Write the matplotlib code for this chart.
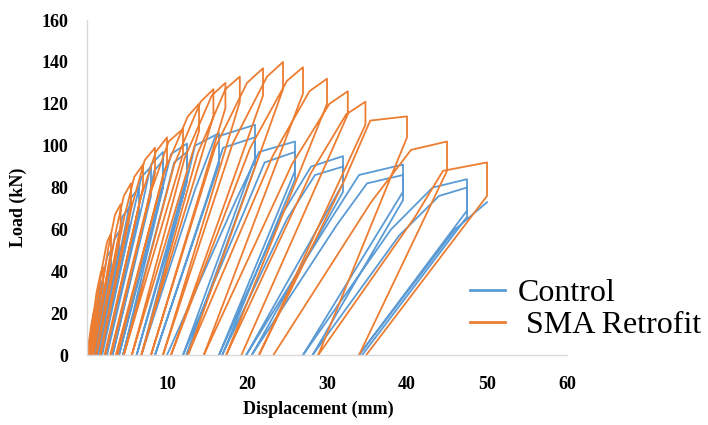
import matplotlib.pyplot as plt
import numpy as np

# Control specimen: corner points of each loading cycle
ctrl_start  = [0.0, 0.1, 0.3, 0.6, 1.0, 1.4, 1.9, 2.5, 3.2, 4.0, 4.5, 6.2, 6.8, 8.5, 10.0, 12.0, 16.5, 16.9, 19.9, 20.6, 27.0, 28.2]
ctrl_mid_d  = [0.8, 1.3, 2.0, 2.8, 3.7, 4.6, 5.6, 6.8, 7.3, 9.0, 9.4, 12.0, 13.5, 15.0, 18.5, 19.8, 24.5, 25.0, 30.5, 31.2, 38.0, 39.0]
ctrl_mid_P  = [15, 26, 36, 42, 50, 58, 65, 70, 67, 73, 70, 76, 79, 75, 73, 70, 68, 65, 65, 62, 60, 57]
ctrl_knee_d = [1.0, 1.7, 2.5, 3.4, 4.4, 5.5, 6.8, 8.0, 8.4, 10.5, 10.9, 13.5, 16.0, 17.0, 21.5, 22.2, 28.0, 28.5, 34.0, 35.0, 43.2, 44.0]
ctrl_knee_P = [19.5, 34, 47, 55, 66, 75, 85, 91, 88, 96, 92, 100, 104, 99, 97, 92, 90, 86, 86, 82, 80, 76]
ctrl_peak_d = [1.2, 2.0, 3.0, 4.0, 5.2, 6.5, 8.0, 9.5, 9.5, 12.5, 12.5, 16.5, 21.0, 21.0, 26.0, 26.0, 32.0, 32.0, 39.5, 39.5, 47.5, 47.5]
ctrl_peak_P = [21, 36, 50, 59, 70, 80, 90, 97, 93, 101, 97, 106, 110, 104, 102, 97, 95, 90, 91, 86, 84, 80]
ctrl_drop_P = [17, 30, 42, 50, 60, 68, 76, 82, 80, 86, 83, 91, 94, 90, 88, 84, 82, 78, 78, 74, 69, 66]
ctrl_end    = [0.2, 0.4, 0.8, 1.3, 1.8, 2.4, 3.2, 4.0, 4.5, 6.2, 6.8, 8.5, 12.0, 12.4, 16.5, 16.9, 19.9, 20.6, 27.0, 28.2, 34.0, 34.4]
# last (open) reloading branch of the control test
ctrl_last_d = [34.0, 46.0, 50.0]
ctrl_last_P = [0, 60, 73]

# SMA retrofitted specimen
sma_start  = [0.0, 0.1, 0.3, 0.5, 0.8, 1.2, 1.7, 2.3, 3.0, 3.8, 4.6, 5.6, 6.8, 8.0, 9.5, 10.5, 12.6, 14.6, 17.4, 21.5, 23.3, 28.9]
sma_mid_d  = [0.6, 1.2, 1.9, 2.7, 3.6, 4.6, 5.6, 6.7, 8.0, 9.5, 10.9, 12.2, 13.8, 16.0, 18.2, 20.4, 23.2, 25.6, 28.0, 32.0, 35.5, 41.0]
sma_mid_P  = [16, 30, 42, 52, 59, 65, 71, 75, 78, 86, 91, 94, 96, 99, 101, 99, 95, 91, 87, 82, 73, 66]
sma_knee_d = [0.85, 1.7, 2.5, 3.5, 4.6, 5.9, 7.2, 8.6, 10.2, 12.6, 14.2, 15.6, 17.3, 20.0, 22.5, 25.0, 27.8, 30.3, 32.4, 35.4, 40.5, 44.5]
sma_knee_P = [20.5, 39, 54, 67, 76, 85, 93, 97, 102, 114, 121, 124, 127, 130, 133, 131, 126, 120, 115, 112, 98, 88]
sma_peak_d = [1.0, 2.0, 3.0, 4.2, 5.5, 7.0, 8.5, 10.0, 12.0, 14.0, 15.8, 17.3, 19.1, 22.0, 24.5, 27.0, 30.0, 32.6, 34.8, 40.0, 45.0, 50.0]
sma_peak_P = [22, 42, 58, 72, 82, 91, 99, 104, 108, 120, 127, 130, 133, 137, 140, 137.5, 132, 126, 121, 114, 102, 92]
sma_drop_P = [18, 36, 50, 62, 72, 80, 87, 92, 96, 107, 114, 118, 121, 124, 127, 125, 120, 115, 110, 104, 88, 76]
sma_end    = [0.15, 0.4, 0.7, 1.1, 1.6, 2.2, 2.9, 3.6, 4.6, 5.6, 6.8, 8.0, 9.5, 10.5, 12.6, 14.6, 17.4, 19.3, 21.5, 28.9, 34.0, 34.9]

x_ticks = [10, 20, 30, 40, 50, 60]
y_ticks = [0, 20, 40, 60, 80, 100, 120, 140, 160]


def loops(start, mid_d, mid_P, knee_d, knee_P, peak_d, peak_P, drop_P, end):
    # chain the corner points of every cycle, NaN between cycles
    xs, ys = [], []
    for i in range(len(start)):
        xs += [start[i], mid_d[i], knee_d[i], peak_d[i], peak_d[i], end[i], np.nan]
        ys += [0, mid_P[i], knee_P[i], peak_P[i], drop_P[i], 0, np.nan]
    return xs, ys


serif = "Liberation Serif"
fig = plt.figure(figsize=(7.08, 4.25), dpi=100)
ax = fig.add_axes([0.1229, 0.1647, 0.678, 0.788])

cx, cy = loops(ctrl_start, ctrl_mid_d, ctrl_mid_P, ctrl_knee_d, ctrl_knee_P,
               ctrl_peak_d, ctrl_peak_P, ctrl_drop_P, ctrl_end)
cx += ctrl_last_d
cy += ctrl_last_P
sx, sy = loops(sma_start, sma_mid_d, sma_mid_P, sma_knee_d, sma_knee_P,
               sma_peak_d, sma_peak_P, sma_drop_P, sma_end)

ax.plot(cx, cy, color="#5B9BD5", lw=1.3, label="Control")
ax.plot(sx, sy, color="#ED7D31", lw=1.3, label=" SMA Retrofit")

ax.set_xlim(0, 60)
ax.set_ylim(0, 160)
ax.set_xticks(x_ticks)
ax.set_yticks(y_ticks)
for lab in ax.get_xticklabels() + ax.get_yticklabels():
    lab.set_fontfamily(serif)
    lab.set_fontweight("bold")
    lab.set_fontsize(13)
ax.tick_params(axis="y", length=0, pad=13.5)
ax.tick_params(axis="x", length=0, pad=15)

for s in ["top", "right"]:
    ax.spines[s].set_visible(False)
for s in ["left", "bottom"]:
    ax.spines[s].set_color("#d9d9d9")
    ax.spines[s].set_linewidth(1.0)

ax.set_xlabel("Displacement (mm)", fontfamily=serif, fontweight="bold", fontsize=13)
ax.set_ylabel("Load (kN)", fontfamily=serif, fontweight="bold", fontsize=13)
ax.xaxis.set_label_coords(0.481, -0.137)
ax.yaxis.set_label_coords(-0.125, 0.44)

leg = ax.legend(loc="center left", bbox_to_anchor=(0.798, 0.136), frameon=False,
                prop={"family": serif, "size": 23}, handlelength=1.1,
                handletextpad=0.4, labelspacing=0.1, borderpad=0, borderaxespad=0)
for h in leg.get_lines():
    h.set_linewidth(2)

fig.savefig("out.png", dpi=100)
